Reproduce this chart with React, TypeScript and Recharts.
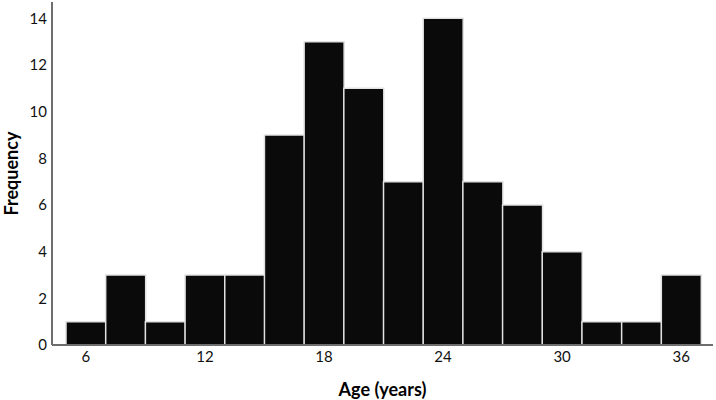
import { BarChart, Bar, XAxis, YAxis } from 'recharts';

// histogram bins (labelled by bin centre, in years) and counts
const ageBins = ['6', '8', '10', '12', '14', '16', '18', '20', '22', '24', '26', '28', '30', '32', '34', '36'];
const frequencies = [1, 3, 1, 3, 3, 9, 13, 11, 7, 14, 7, 6, 4, 1, 1, 3];
const yTicks = [0, 2, 4, 6, 8, 10, 12, 14];

const data = ageBins.map((age, i) => ({ age, count: frequencies[i] }));

const font = 'Lato, "Open Sans", sans-serif';

export default function App() {
  return (
    <div style={{ position: 'absolute', left: 0, top: 0, background: '#fff' }}>
      <BarChart
        width={716}
        height={400}
        data={data}
        barCategoryGap={0}
        margin={{ top: 2, right: 3, left: 0, bottom: 0 }}
      >
        <XAxis
          dataKey="age"
          interval={2}
          height={55}
          padding={{ left: 14, right: 12 }}
          tickLine={false}
          tickSize={0}
          tickMargin={6}
          axisLine={{ stroke: '#6e6e6e', strokeWidth: 2 }}
          tick={{ fill: '#111', fontSize: 15, fontFamily: font }}
          label={{
            value: 'Age (years)',
            position: 'insideBottom',
            offset: 4,
            style: { fill: '#000', fontSize: 18, fontWeight: 700, fontFamily: font },
          }}
        />
        <YAxis
          width={52}
          domain={[0, 14.7]}
          ticks={yTicks}
          tickLine={false}
          tickSize={0}
          tickMargin={5}
          axisLine={{ stroke: '#6e6e6e', strokeWidth: 2 }}
          tick={{ fill: '#111', fontSize: 15, fontFamily: font }}
          label={{
            value: 'Frequency',
            angle: -90,
            position: 'insideLeft',
            offset: 12,
            style: { textAnchor: 'middle', fill: '#000', fontSize: 18, fontWeight: 700, fontFamily: font },
          }}
        />
        <Bar dataKey="count" fill="#0a0a0a" stroke="#e2e2e2" strokeWidth={1.5} isAnimationActive={false} />
      </BarChart>
    </div>
  );
}
